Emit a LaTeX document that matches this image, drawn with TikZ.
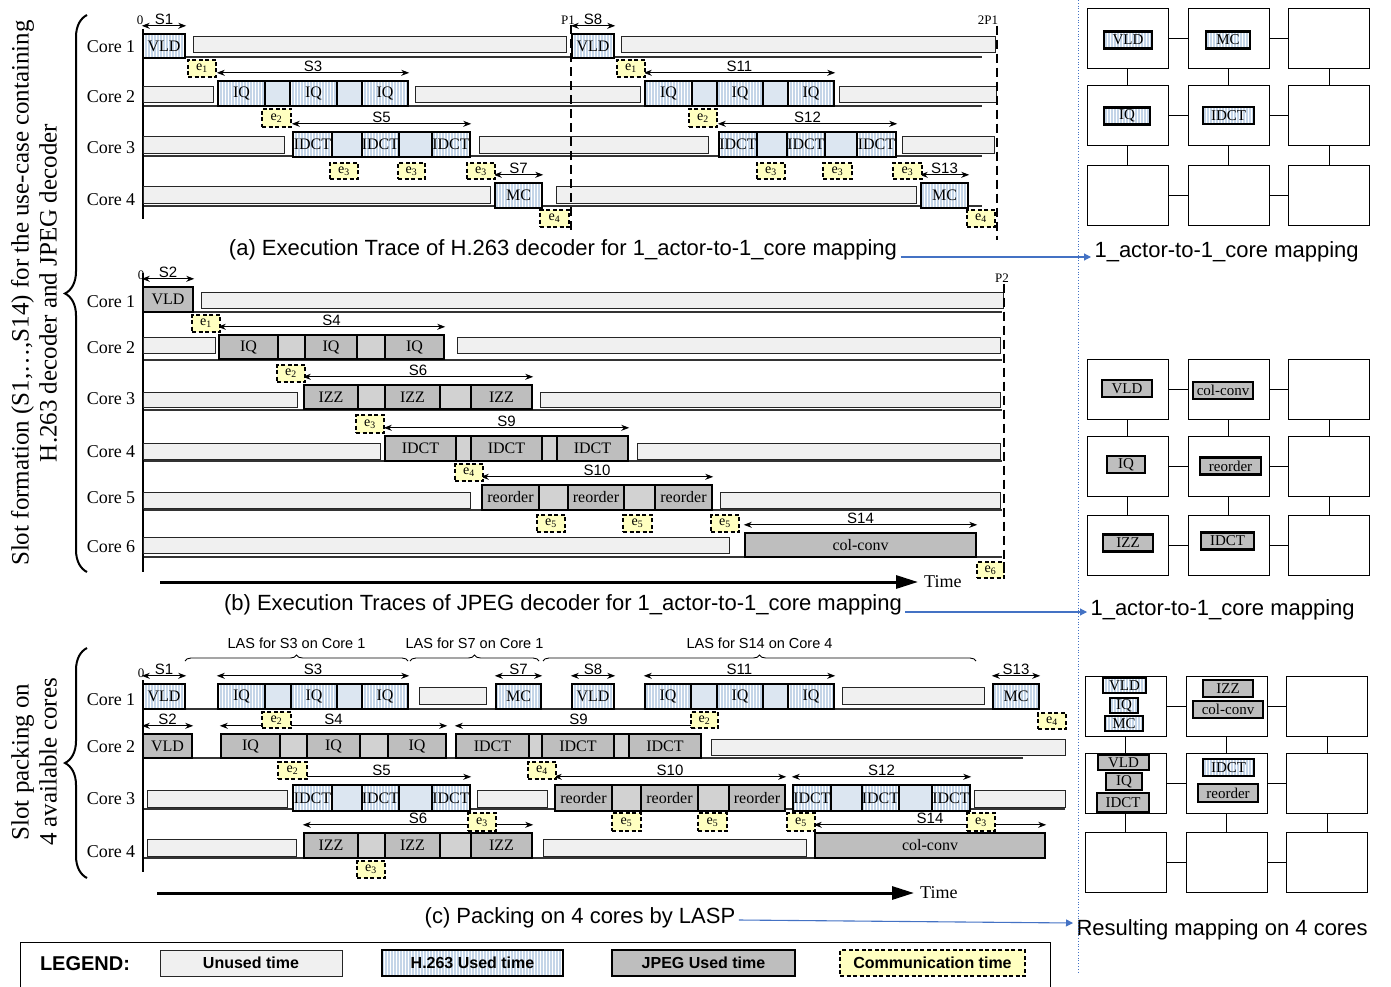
\documentclass[tikz,border=0pt]{standalone}
\usepackage{fontspec}
\setmainfont{Liberation Serif}
\setsansfont{Liberation Sans}
\usetikzlibrary{arrows.meta,patterns,decorations.pathreplacing}

\definecolor{unusedgray}{RGB}{240,240,240}
\definecolor{hblue}{RGB}{196,213,232}
\definecolor{hlight}{RGB}{220,230,241}
\definecolor{jgray}{RGB}{190,190,190}
\definecolor{jlight}{RGB}{210,210,210}
\definecolor{commyellow}{RGB}{255,255,192}
\definecolor{mapblue}{RGB}{68,114,196}

\newcommand{\fsz}[1]{\fontsize{#1}{#1}\selectfont}
% timeline block: style, name, x-left, x-right, y-top, y-bottom, text
\newcommand{\tblk}[7]{\node[#1, minimum width={(#4-#3)*1pt}, minimum height={(#6-#5)*1pt}]
    (#2) at ({(#3+#4)/2},{(#5+#6)/2}) {#7};}
\newcommand{\elab}[1]{e\textsubscript{#1}}

\begin{document}
\begin{tikzpicture}[
    x=1pt, y=-1pt,
    font=\fsz{16},
    >={Stealth[length=8pt,width=6pt]},
    blk/.style={
        draw=black,
        line width=2.4pt,
        inner sep=0pt,
        font=\fsz{16}
    },
    h263/.style={
        blk,
        preaction={fill=hblue},
        pattern=vertical lines,
        pattern color=white
    },
    hgap/.style={blk, fill=hlight},
    jpeg/.style={blk, fill=jgray},
    jgap/.style={blk, fill=jlight},
    unused/.style={
        draw=black!85,
        line width=1pt,
        fill=unusedgray,
        inner sep=0pt
    },
    comm/.style={
        draw=black,
        line width=2pt,
        dash pattern=on 4pt off 2.5pt,
        fill=commyellow,
        inner sep=0pt,
        font=\fsz{14}
    },
    slotarrow/.style={<->, line width=0.9pt},
    slotlab/.style={above, inner sep=1pt, font=\sffamily\fsz{15}},
    corelab/.style={font=\fsz{18}},
    plab/.style={inner sep=1pt, font=\fsz{13}},
    rowline/.style={line width=1.2pt, draw=black!80},
    axis/.style={line width=2pt},
    period/.style={line width=2.2pt, dash pattern=on 9pt off 5pt},
    timearrow/.style={-{Triangle[length=22pt,width=13pt]}, line width=3pt},
    timelab/.style={anchor=west, inner xsep=6pt, font=\fsz{18}},
    captxt/.style={font=\sffamily\fsz{22}},
    maparrow/.style={-{Triangle[length=7pt,width=7pt]}, line width=1.1pt, draw=mapblue},
    lasbrace/.style={decorate, decoration={brace, amplitude=6pt}, line width=0.9pt},
    laslab/.style={midway, above=11pt, inner sep=1pt, font=\sffamily\fsz{14.5}},
    bigbrace/.style={decorate, decoration={brace, amplitude=22pt}, line width=2pt},
    sidelab/.style={rotate=90, align=center, font=\fontsize{25}{28}\selectfont},
    core/.style={
        draw=black,
        line width=1pt,
        fill=white,
        inner sep=0pt,
        minimum width=81pt,
        minimum height=60pt
    },
    link/.style={line width=1pt},
    mini/.style={
        draw=black,
        line width=2.5pt,
        inner sep=0pt,
        minimum height=17pt,
        font=\fsz{15}
    },
    minih/.style={mini, preaction={fill=hblue}, pattern=vertical lines, pattern color=white},
    minij/.style={mini, fill=jgray},
    legtext/.style={font=\sffamily\bfseries\fsz{16}},
    sepline/.style={draw=mapblue, line width=0.8pt, dotted}
]

\path[use as bounding box] (0,0) rectangle (1391,987);

% ---------------------------------------------------------
% Side labels and braces
% ---------------------------------------------------------
\node[sidelab] (sideTop) at (34,293)
    {Slot formation (S1,…,S14) for the use-case containing\\
     H.263 decoder and JPEG decoder};
\node[sidelab] (sideBot) at (34,762) {Slot packing on\\4 available cores};
\draw[bigbrace] (87,572) -- (87,15);
\draw[bigbrace] (87,878) -- (87,648);

% ---------------------------------------------------------
% (a) H.263 decoder trace
% ---------------------------------------------------------
\foreach \y in {57,106,156,206}
    \draw[rowline] (143,\y) -- (982,\y);
\draw[axis] (143,29) -- (143,219);
\foreach \n/\y in {1/47,2/97,3/148,4/200}
    \node[corelab] (aC\n) at (111,\y) {Core \n};

% core 1
\tblk{h263}{aVLDa}{143}{185}{34}{58}{VLD}
\tblk{unused}{aU1a}{193}{566}{37}{53}{}
\tblk{h263}{aVLDb}{572}{614}{34}{58}{VLD}
\tblk{unused}{aU1b}{621}{995}{37}{53}{}
% core 2
\tblk{unused}{aU2a}{143}{213}{87}{103}{}
\tblk{h263}{aIQa}{218}{265}{81}{106}{IQ}
\tblk{hgap}{aIQg1}{265}{290}{81}{106}{}
\tblk{h263}{aIQb}{290}{337}{81}{106}{IQ}
\tblk{hgap}{aIQg2}{337}{362}{81}{106}{}
\tblk{h263}{aIQc}{362}{408}{81}{106}{IQ}
\tblk{unused}{aU2b}{415}{640}{87}{103}{}
\tblk{h263}{aIQd}{645}{692}{81}{106}{IQ}
\tblk{hgap}{aIQg3}{692}{717}{81}{106}{}
\tblk{h263}{aIQe}{717}{763}{81}{106}{IQ}
\tblk{hgap}{aIQg4}{763}{788}{81}{106}{}
\tblk{h263}{aIQf}{788}{834}{81}{106}{IQ}
\tblk{unused}{aU2c}{839}{996}{87}{103}{}
% core 3
\tblk{unused}{aU3a}{143}{284}{137}{154}{}
\tblk{h263}{aIDa}{293}{332}{132}{157}{IDCT}
\tblk{hgap}{aIDg1}{332}{362}{132}{157}{}
\tblk{h263}{aIDb}{362}{399}{132}{157}{IDCT}
\tblk{hgap}{aIDg2}{399}{432}{132}{157}{}
\tblk{h263}{aIDc}{432}{470}{132}{157}{IDCT}
\tblk{unused}{aU3b}{479}{708}{137}{154}{}
\tblk{h263}{aIDd}{719}{757}{132}{157}{IDCT}
\tblk{hgap}{aIDg3}{757}{787}{132}{157}{}
\tblk{h263}{aIDe}{787}{825}{132}{157}{IDCT}
\tblk{hgap}{aIDg4}{825}{857}{132}{157}{}
\tblk{h263}{aIDf}{857}{896}{132}{157}{IDCT}
\tblk{unused}{aU3c}{902}{994}{137}{154}{}
% core 4
\tblk{unused}{aU4a}{143}{490}{187}{203}{}
\tblk{h263}{aMCa}{495}{542}{183}{208}{MC}
\tblk{unused}{aU4b}{556}{916}{187}{203}{}
\tblk{h263}{aMCb}{921}{968}{183}{208}{MC}

% slots
\draw[slotarrow] ([yshift=7pt]aVLDa.north west) -- node[slotlab] {S1} ([yshift=7pt]aVLDa.north east);
\draw[slotarrow] ([yshift=7pt]aIQa.north west) -- node[slotlab] {S3} ([yshift=7pt]aIQc.north east);
\draw[slotarrow] ([yshift=7pt]aIDa.north west) -- node[slotlab] {S5} ([yshift=7pt]aIDc.north east);
\draw[slotarrow] ([yshift=7pt]aMCa.north west) -- node[slotlab] {S7} ([yshift=7pt]aMCa.north east);
\draw[slotarrow] ([yshift=7pt]aVLDb.north west) -- node[slotlab] {S8} ([yshift=7pt]aVLDb.north east);
\draw[slotarrow] ([yshift=7pt]aIQd.north west) -- node[slotlab] {S11} ([yshift=7pt]aIQf.north east);
\draw[slotarrow] ([yshift=7pt]aIDd.north west) -- node[slotlab] {S12} ([yshift=7pt]aIDf.north east);
\draw[slotarrow] ([yshift=7pt]aMCb.north west) -- node[slotlab] {S13} ([yshift=7pt]aMCb.north east);

% communication
\tblk{comm}{aE1a}{188}{216}{60}{77}{\elab{1}}
\tblk{comm}{aE1b}{617}{645}{60}{77}{\elab{1}}
\tblk{comm}{aE2a}{262}{291}{109}{127}{\elab{2}}
\tblk{comm}{aE2b}{689}{717}{109}{127}{\elab{2}}
\tblk{comm}{aE3a}{330}{358}{163}{179}{\elab{3}}
\tblk{comm}{aE3b}{398}{425}{163}{179}{\elab{3}}
\tblk{comm}{aE3c}{467}{495}{163}{179}{\elab{3}}
\tblk{comm}{aE3d}{757}{785}{163}{179}{\elab{3}}
\tblk{comm}{aE3e}{823}{852}{163}{179}{\elab{3}}
\tblk{comm}{aE3f}{893}{922}{163}{179}{\elab{3}}
\tblk{comm}{aE4a}{540}{569}{210}{227}{\elab{4}}
\tblk{comm}{aE4b}{967}{995}{210}{227}{\elab{4}}

% periods
\node[plab] (a0) at (140,20) {0};
\node[plab] (aP1) at (568,20) {P1};
\node[plab] (a2P1) at (988,20) {2P1};
\coordinate (aP1end) at (571,232);
\coordinate (a2P1end) at (997,240);
\draw[period] (aP1.south -| aP1end) -- (aP1end);
\draw[period] (a2P1.south -| a2P1end) -- (a2P1end);

\node[captxt] (capA) at (563,250)
    {(a) Execution Trace of H.263 decoder for 1\_actor-to-1\_core mapping};
\node[captxt, anchor=west] (mapA) at (1091,252) {1\_actor-to-1\_core mapping};
\draw[maparrow] ([yshift=-7pt]capA.east) -- ([yshift=-5pt]mapA.west);

% ---------------------------------------------------------
% (b) JPEG decoder trace
% ---------------------------------------------------------
\foreach \y in {312,360,410,461,510,557}
    \draw[rowline] (143,\y) -- (1002,\y);
\draw[axis] (143,273) -- (143,572);
\foreach \n/\y in {1/302,2/348,3/399,4/452,5/498,6/547}
    \node[corelab] (bC\n) at (111,\y) {Core \n};

% core 1
\tblk{jpeg}{bVLD}{143}{193}{287}{312}{VLD}
\tblk{unused}{bU1}{201}{1003}{292}{308}{}
% core 2
\tblk{unused}{bU2a}{143}{215}{337}{353}{}
\tblk{jpeg}{bIQa}{219}{278}{335}{359}{IQ}
\tblk{jgap}{bIQg1}{278}{305}{335}{359}{}
\tblk{jpeg}{bIQb}{305}{357}{335}{359}{IQ}
\tblk{jgap}{bIQg2}{357}{385}{335}{359}{}
\tblk{jpeg}{bIQc}{385}{444}{335}{359}{IQ}
\tblk{unused}{bU2b}{457}{1000}{337}{353}{}
% core 3
\tblk{unused}{bU3a}{143}{297}{392}{407}{}
\tblk{jpeg}{bIZa}{304}{358}{385}{409}{IZZ}
\tblk{jgap}{bIZg1}{358}{385}{385}{409}{}
\tblk{jpeg}{bIZb}{385}{440}{385}{409}{IZZ}
\tblk{jgap}{bIZg2}{440}{471}{385}{409}{}
\tblk{jpeg}{bIZc}{471}{532}{385}{409}{IZZ}
\tblk{unused}{bU3b}{540}{1000}{392}{407}{}
% core 4
\tblk{unused}{bU4a}{143}{380}{443}{459}{}
\tblk{jpeg}{bIDa}{385}{456}{436}{461}{IDCT}
\tblk{jgap}{bIDg1}{456}{471}{436}{461}{}
\tblk{jpeg}{bIDb}{471}{542}{436}{461}{IDCT}
\tblk{jgap}{bIDg2}{542}{557}{436}{461}{}
\tblk{jpeg}{bIDc}{557}{628}{436}{461}{IDCT}
\tblk{unused}{bU4b}{637}{1000}{443}{459}{}
% core 5
\tblk{unused}{bU5a}{143}{470}{492}{508}{}
\tblk{jpeg}{bROa}{482}{539}{485}{510}{reorder}
\tblk{jgap}{bROg1}{539}{568}{485}{510}{}
\tblk{jpeg}{bROb}{568}{624}{485}{510}{reorder}
\tblk{jgap}{bROg2}{624}{655}{485}{510}{}
\tblk{jpeg}{bROc}{655}{712}{485}{510}{reorder}
\tblk{unused}{bU5b}{720}{1000}{492}{508}{}
% core 6
\tblk{unused}{bU6}{143}{729}{537}{553}{}
\tblk{jpeg}{bCC}{745}{976}{533}{557}{col-conv}

% slots
\draw[slotarrow] ([yshift=7pt]bVLD.north west) -- node[slotlab] {S2} ([yshift=7pt]bVLD.north east);
\draw[slotarrow] ([yshift=7pt]bIQa.north west) -- node[slotlab] {S4} ([yshift=7pt]bIQc.north east);
\draw[slotarrow] ([yshift=7pt]bIZa.north west) -- node[slotlab] {S6} ([yshift=7pt]bIZc.north east);
\draw[slotarrow] ([yshift=7pt]bIDa.north west) -- node[slotlab] {S9} ([yshift=7pt]bIDc.north east);
\draw[slotarrow] ([yshift=7pt]bROa.north west) -- node[slotlab] {S10} ([yshift=7pt]bROc.north east);
\draw[slotarrow] ([yshift=7pt]bCC.north west) -- node[slotlab] {S14} ([yshift=7pt]bCC.north east);

% communication
\tblk{comm}{bE1}{192}{220}{315}{332}{\elab{1}}
\tblk{comm}{bE2}{277}{305}{365}{382}{\elab{2}}
\tblk{comm}{bE3}{356}{384}{415}{433}{\elab{3}}
\tblk{comm}{bE4}{455}{483}{464}{481}{\elab{4}}
\tblk{comm}{bE5a}{537}{565}{515}{532}{\elab{5}}
\tblk{comm}{bE5b}{623}{652}{515}{532}{\elab{5}}
\tblk{comm}{bE5c}{711}{739}{515}{532}{\elab{5}}
\tblk{comm}{bE6}{977}{1004}{562}{578}{\elab{6}}

% period and time
\node[plab] (b0) at (141,275) {0};
\node[plab] (bP2) at (1002,278) {P2};
\coordinate (bP2end) at (1004,578);
\draw[period] (bP2.south -| bP2end) -- (bP2end);
\coordinate (bT0) at (160,582);
\node[timelab] (bTime) at (918,582) {Time};
\draw[timearrow] (bT0) -- (bTime.west);

\node[captxt] (capB) at (563,605)
    {(b) Execution Traces of JPEG decoder for 1\_actor-to-1\_core mapping};
\node[captxt, anchor=west] (mapB) at (1087,610) {1\_actor-to-1\_core mapping};
\draw[maparrow] ([yshift=-7pt]capB.east) -- ([yshift=-2pt]mapB.west);

% ---------------------------------------------------------
% (c) Packing on 4 cores
% ---------------------------------------------------------
\draw[rowline] (143,709) -- (1040,709);
\draw[rowline] (143,758) -- (1023,758);
\draw[rowline] (143,809) -- (1065,809);
\draw[rowline] (143,858) -- (1045,858);
\draw[axis] (143,680) -- (143,872);
\foreach \n/\y in {1/700,2/747,3/799,4/852}
    \node[corelab] (cC\n) at (111,\y) {Core \n};

\draw[lasbrace] (185,661) -- (408,661) node[laslab] {LAS for S3 on Core 1};
\draw[lasbrace] (410,661) -- (539,661) node[laslab] {LAS for S7 on Core 1};
\draw[lasbrace] (543,661) -- (976,661) node[laslab] {LAS for S14 on Core 4};

% core 1
\tblk{h263}{cVLDa}{143}{185}{684}{709}{VLD}
\tblk{h263}{cIQa}{218}{265}{684}{709}{IQ}
\tblk{hgap}{cIQg1}{265}{291}{684}{709}{}
\tblk{h263}{cIQb}{291}{337}{684}{709}{IQ}
\tblk{hgap}{cIQg2}{337}{362}{684}{709}{}
\tblk{h263}{cIQc}{362}{408}{684}{709}{IQ}
\tblk{unused}{cU1a}{419}{486}{687}{704}{}
\tblk{h263}{cMCa}{496}{541}{684}{709}{MC}
\tblk{h263}{cVLDb}{572}{614}{684}{709}{VLD}
\tblk{h263}{cIQd}{645}{691}{684}{709}{IQ}
\tblk{hgap}{cIQg3}{691}{717}{684}{709}{}
\tblk{h263}{cIQe}{717}{763}{684}{709}{IQ}
\tblk{hgap}{cIQg4}{763}{788}{684}{709}{}
\tblk{h263}{cIQf}{788}{834}{684}{709}{IQ}
\tblk{unused}{cU1b}{842}{984}{687}{704}{}
\tblk{h263}{cMCb}{993}{1039}{684}{709}{MC}
% core 2
\tblk{jpeg}{cVLDc}{143}{192}{734}{758}{VLD}
\tblk{jpeg}{cJQa}{221}{280}{734}{758}{IQ}
\tblk{jgap}{cJQg1}{280}{307}{734}{758}{}
\tblk{jpeg}{cJQb}{307}{360}{734}{758}{IQ}
\tblk{jgap}{cJQg2}{360}{388}{734}{758}{}
\tblk{jpeg}{cJQc}{388}{446}{734}{758}{IQ}
\tblk{jpeg}{cJDa}{456}{529}{734}{758}{IDCT}
\tblk{jgap}{cJDg1}{529}{542}{734}{758}{}
\tblk{jpeg}{cJDb}{542}{614}{734}{758}{IDCT}
\tblk{jgap}{cJDg2}{614}{629}{734}{758}{}
\tblk{jpeg}{cJDc}{629}{701}{734}{758}{IDCT}
\tblk{unused}{cU2}{711}{1065}{739}{755}{}
% core 3
\tblk{unused}{cU3a}{147}{287}{790}{807}{}
\tblk{h263}{cIDa}{293}{332}{785}{811}{IDCT}
\tblk{hgap}{cIDg1}{332}{362}{785}{811}{}
\tblk{h263}{cIDb}{362}{399}{785}{811}{IDCT}
\tblk{hgap}{cIDg2}{399}{432}{785}{811}{}
\tblk{h263}{cIDc}{432}{470}{785}{811}{IDCT}
\tblk{unused}{cU3b}{477}{547}{790}{807}{}
\tblk{jpeg}{cROa}{555}{612}{785}{811}{reorder}
\tblk{jgap}{cROg1}{612}{641}{785}{811}{}
\tblk{jpeg}{cROb}{641}{698}{785}{811}{reorder}
\tblk{jgap}{cROg2}{698}{729}{785}{811}{}
\tblk{jpeg}{cROc}{729}{785}{785}{811}{reorder}
\tblk{h263}{cIDd}{793}{831}{785}{811}{IDCT}
\tblk{hgap}{cIDg3}{831}{862}{785}{811}{}
\tblk{h263}{cIDe}{862}{899}{785}{811}{IDCT}
\tblk{hgap}{cIDg4}{899}{932}{785}{811}{}
\tblk{h263}{cIDf}{932}{970}{785}{811}{IDCT}
\tblk{unused}{cU3c}{974}{1065}{790}{807}{}
% core 4
\tblk{unused}{cU4a}{147}{296}{839}{856}{}
\tblk{jpeg}{cIZa}{304}{358}{833}{858}{IZZ}
\tblk{jgap}{cIZg1}{358}{385}{833}{858}{}
\tblk{jpeg}{cIZb}{385}{440}{833}{858}{IZZ}
\tblk{jgap}{cIZg2}{440}{471}{833}{858}{}
\tblk{jpeg}{cIZc}{471}{532}{833}{858}{IZZ}
\tblk{unused}{cU4b}{543}{806}{839}{856}{}
\tblk{jpeg}{cCC}{815}{1045}{833}{858}{col-conv}

% slots
\draw[slotarrow] ([yshift=7pt]cVLDa.north west) -- node[slotlab] {S1} ([yshift=7pt]cVLDa.north east);
\draw[slotarrow] ([yshift=7pt]cIQa.north west) -- node[slotlab] {S3} ([yshift=7pt]cIQc.north east);
\draw[slotarrow] ([yshift=7pt]cMCa.north west) -- node[slotlab] {S7} ([yshift=7pt]cMCa.north east);
\draw[slotarrow] ([yshift=7pt]cVLDb.north west) -- node[slotlab] {S8} ([yshift=7pt]cVLDb.north east);
\draw[slotarrow] ([yshift=7pt]cIQd.north west) -- node[slotlab] {S11} ([yshift=7pt]cIQf.north east);
\draw[slotarrow] ([yshift=7pt]cMCb.north west) -- node[slotlab] {S13} ([yshift=7pt]cMCb.north east);
\draw[slotarrow] ([yshift=7pt]cVLDc.north west) -- node[slotlab] {S2} ([yshift=7pt]cVLDc.north east);
\draw[slotarrow] ([yshift=7pt]cJQa.north west) -- node[slotlab] {S4} ([yshift=7pt]cJQc.north east);
\draw[slotarrow] ([yshift=7pt]cJDa.north west) -- node[slotlab] {S9} ([yshift=7pt]cJDc.north east);
\draw[slotarrow] ([yshift=7pt]cIDa.north west) -- node[slotlab] {S5} ([yshift=7pt]cIDc.north east);
\draw[slotarrow] ([yshift=7pt]cROa.north west) -- node[slotlab] {S10} ([yshift=7pt]cROc.north east);
\draw[slotarrow] ([yshift=7pt]cIDd.north west) -- node[slotlab] {S12} ([yshift=7pt]cIDf.north east);
\draw[slotarrow] ([yshift=7pt]cIZa.north west) -- node[slotlab] {S6} ([yshift=7pt]cIZc.north east);
\draw[slotarrow] ([yshift=7pt]cCC.north west) -- node[slotlab] {S14} ([yshift=7pt]cCC.north east);

% communication
\tblk{comm}{cE2a}{262}{291}{712}{728}{\elab{2}}
\tblk{comm}{cE2b}{691}{718}{712}{728}{\elab{2}}
\tblk{comm}{cE4a}{1038}{1066}{713}{729}{\elab{4}}
\tblk{comm}{cE2c}{278}{307}{762}{779}{\elab{2}}
\tblk{comm}{cE4b}{528}{556}{762}{779}{\elab{4}}
\tblk{comm}{cE3a}{468}{496}{813}{831}{\elab{3}}
\tblk{comm}{cE5a}{612}{641}{813}{831}{\elab{5}}
\tblk{comm}{cE5b}{698}{727}{813}{831}{\elab{5}}
\tblk{comm}{cE5c}{787}{815}{813}{831}{\elab{5}}
\tblk{comm}{cE3c}{967}{995}{813}{831}{\elab{3}}
\tblk{comm}{cE3b}{357}{385}{861}{878}{\elab{3}}

\node[plab] (c0) at (141,673) {0};
\coordinate (cT0) at (157,893);
\node[timelab] (cTime) at (914,893) {Time};
\draw[timearrow] (cT0) -- (cTime.west);

\node[captxt] (capC) at (580,918) {(c) Packing on 4 cores by LASP};
\node[captxt, anchor=west] (mapC) at (1073,930) {Resulting mapping on 4 cores};
\draw[maparrow] ([yshift=-2pt]capC.east) -- ([yshift=7pt]mapC.west);

% ---------------------------------------------------------
% Mapping grids
% ---------------------------------------------------------
\draw[sepline] (1078,0) -- (1078,972);

\foreach \r/\y in {0/39,1/116,2/195.5}
    \foreach \c/\x in {0/1127.5,1/1228.5,2/1329}
        \node[core] (gA\r\c) at (\x,\y) {};
\foreach \r/\y in {0/389,1/466,2/545}
    \foreach \c/\x in {0/1127.5,1/1228.5,2/1329}
        \node[core] (gB\r\c) at (\x,\y) {};
\foreach \r/\y in {0/706.5,1/783,2/862}
    \foreach \c/\x in {0/1125.5,1/1226.5,2/1327}
        \node[core] (gC\r\c) at (\x,\y) {};

\foreach \g in {gA,gB,gC}{
    \foreach \i in {0,1,2}{
        \draw[link] (\g\i0) -- (\g\i1);
        \draw[link] (\g\i1) -- (\g\i2);
        \draw[link] (\g0\i) -- (\g1\i);
        \draw[link] (\g1\i) -- (\g2\i);
    }
}

% 1 actor to 1 core, H.263
\node[minih, minimum width=48pt] (gAvld) at (1128,40) {VLD};
\node[minih, minimum width=44pt] (gAmc) at (1228,40) {MC};
\node[minih, minimum width=46pt] (gAiq) at (1127,116) {IQ};
\node[minih, minimum width=51pt] (gAidct) at (1228.5,115.5) {IDCT};

% 1 actor to 1 core, JPEG
\node[minij, minimum width=50pt] (gBvld) at (1127,388.5) {VLD};
\node[minij, minimum width=60pt] (gBcc) at (1223,390.5) {col-conv};
\node[minij, minimum width=38pt] (gBiq) at (1126,464.5) {IQ};
\node[minij, minimum width=61pt] (gBro) at (1230.5,466) {reorder};
\node[minij, minimum width=50pt] (gBizz) at (1128,543) {IZZ};
\node[minij, minimum width=53pt] (gBidct) at (1227.5,541) {IDCT};

% resulting mapping on 4 cores
\node[minih, minimum width=43pt, minimum height=15pt] (gCvldh) at (1124.5,685.5) {VLD};
\node[minih, minimum width=28pt, minimum height=15pt] (gCiqh) at (1124,705.5) {IQ};
\node[minih, minimum width=38pt, minimum height=15pt] (gCmch) at (1124,723.5) {MC};
\node[minij, minimum width=50pt] (gCizz) at (1228,688.5) {IZZ};
\node[minij, minimum width=70pt] (gCcc) at (1228,709.5) {col-conv};
\node[minij, minimum width=51pt, minimum height=15pt] (gCvldj) at (1123.5,762.5) {VLD};
\node[minij, minimum width=36pt] (gCiqj) at (1124,781.5) {IQ};
\node[minij, minimum width=52pt, minimum height=19pt] (gCidj) at (1123,802.5) {IDCT};
\node[minih, minimum width=51pt] (gCidh) at (1228.5,767.5) {IDCT};
\node[minij, minimum width=60pt, minimum height=18pt] (gCro) at (1228,793) {reorder};

% ---------------------------------------------------------
% Legend
% ---------------------------------------------------------
\draw[line width=1pt] (20,992) -- (20,942) -- (1050,942) -- (1050,992);
\node[font=\sffamily\bfseries\fsz{20}] (legT) at (85,964) {LEGEND:};
\tblk{unused, legtext}{legU}{160}{342}{950}{976}{Unused time}
\tblk{h263, legtext}{legH}{382}{563}{950}{976}{H.263 Used time}
\tblk{jpeg, legtext}{legJ}{612}{795}{950}{976}{JPEG Used time}
\tblk{comm, legtext}{legC}{840}{1025}{950}{976}{Communication time}

\end{tikzpicture}
\end{document}
